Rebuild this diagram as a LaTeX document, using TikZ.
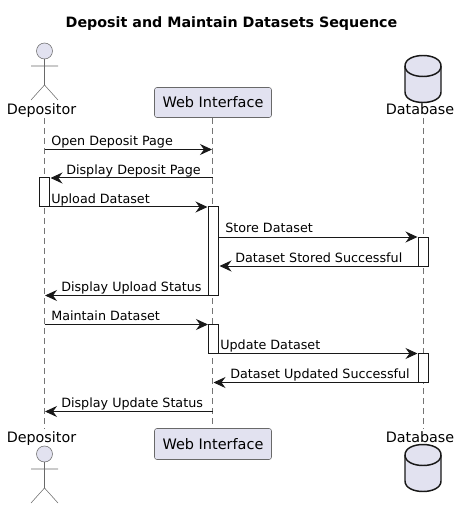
\documentclass[tikz,border=0pt]{standalone}
\usepackage{fontspec}
\setmainfont{DejaVu Sans}
\usepackage{xcolor}
\usetikzlibrary{arrows.meta, positioning, shapes.geometric}
\definecolor{partfill}{HTML}{E2E2F0}
\definecolor{inkline}{HTML}{181818}
\tikzset{
    msg/.style={draw=inkline, line width=0.75pt, -{Stealth[length=9pt, width=8.25pt, inset=3pt]}},
    msgtext/.style={anchor=base west, inner sep=0pt, font=\fontsize{9.55}{12}\selectfont, text=black},
    parttext/.style={anchor=base, inner sep=0pt, font=\fontsize{10.75}{12}\selectfont, text=black},
    lifeline/.style={draw=inkline!60, line width=0.4pt, dash pattern=on 4.5pt off 3pt},
    actbox/.style={draw=inkline, fill=white, line width=0.75pt, rectangle, inner sep=0pt, minimum width=7.5pt},
    partbox/.style={draw=inkline!65, fill=partfill, line width=0.4pt, rounded corners=1.8pt, inner sep=0pt,
        minimum width=87.75pt, minimum height=22.5pt, font=\fontsize{10.85}{12}\selectfont},
    dbline/.style={draw=inkline, line width=1.1pt},
    actorline/.style={draw=inkline!65, line width=0.4pt}
}
\begin{document}
\begin{tikzpicture}[x=0.75pt, y=-0.75pt]
    \useasboundingbox (0,0) rectangle (460,509);

    % Title
    \node [anchor=base, inner sep=0pt, font=\fontsize{10.7}{12}\selectfont\bfseries] (title) at (231.5,28) {Deposit and Maintain Datasets Sequence};

    % Lifelines
    \coordinate (depoTop) at (44.5,118);
    \coordinate (depoBot) at (44.5,429);
    \coordinate (webTop) at (212.5,118);
    \coordinate (webBot) at (212.5,429);
    \coordinate (dbTop) at (423,118);
    \coordinate (dbBot) at (423,429);
    \draw [lifeline] (depoTop) -- (depoBot);
    \draw [lifeline] (webTop) -- (webBot);
    \draw [lifeline] (dbTop) -- (dbBot);

    % Participants
    \node [partbox] (webA) at (213,102.5) {Web Interface};
    \node [partbox, minimum height=23.25pt] (webB) at (213,444) {Web Interface};
    \node [parttext] (depoA) at (41.5,115) {Depositor};
    \node [parttext] (depoB) at (41.5,442) {Depositor};
    \node [parttext] (dbA) at (420,115) {Database};
    \node [parttext] (dbB) at (420,442) {Database};

    % Actors
    \draw [actorline, fill=partfill] (44.5,51) circle [radius=8];
    \draw [actorline] (44.5,59) -- (44.5,85) (31,66) -- (58,66) (31,100) -- (44.5,85) -- (58,100);
    \draw [actorline, fill=partfill] (44.5,454) circle [radius=8];
    \draw [actorline] (44.5,462) -- (44.5,488) (31,469) -- (58,469) (31,503) -- (44.5,488) -- (58,503);

    % Databases
    \draw [dbline, fill=partfill] (405,66) .. controls (405,52) and (441,52) .. (441,66)
        -- (441,92) .. controls (441,106) and (405,106) .. (405,92) -- cycle;
    \draw [dbline] (405,66) .. controls (405,80) and (441,80) .. (441,66);
    \draw [dbline, fill=partfill] (405,455) .. controls (405,441) and (441,441) .. (441,455)
        -- (441,481) .. controls (441,495) and (405,495) .. (405,481) -- cycle;
    \draw [dbline] (405,455) .. controls (405,469) and (441,469) .. (441,455);

    % Activations
    \node [actbox, minimum height=21.75pt] (actDepo) at (44.5,192.5) {};
    \node [actbox, minimum height=66pt] (actWebA) at (213.5,251) {};
    \node [actbox, minimum height=21.75pt] (actWebB) at (213.5,339) {};
    \node [actbox, minimum height=21.75pt] (actDbA) at (423.5,251.5) {};
    \node [actbox, minimum height=21.75pt] (actDbB) at (423.5,368) {};

    % Messages
    \coordinate (openS) at (44.5,149.5);
    \coordinate (openE) at (212,149.5);
    \draw [msg] (openS) -- (openE);
    \node [msgtext] (openT) at (51,145.5) {Open Deposit Page};

    \coordinate (showS) at (212.5,178);
    \coordinate (showE) at (50.5,178);
    \draw [msg] (showS) -- (showE);
    \node [msgtext] (showT) at (66,174.5) {Display Deposit Page};

    \coordinate (uploadS) at (44.5,207);
    \coordinate (uploadE) at (207.5,207);
    \draw [msg] (uploadS) -- (uploadE);
    \node [msgtext] (uploadT) at (51,203.5) {Upload Dataset};

    \coordinate (storeS) at (218.5,237);
    \coordinate (storeE) at (417.5,237);
    \draw [msg] (storeS) -- (storeE);
    \node [msgtext] (storeT) at (225,233) {Store Dataset};

    \coordinate (storedS) at (418.5,266);
    \coordinate (storedE) at (219.5,266);
    \draw [msg] (storedS) -- (storedE);
    \node [msgtext] (storedT) at (235,262) {Dataset Stored Successful};

    \coordinate (statusS) at (208.5,295.5);
    \coordinate (statusE) at (45,295.5);
    \draw [msg] (statusS) -- (statusE);
    \node [msgtext] (statusT) at (61,291) {Display Upload Status};

    \coordinate (keepS) at (44.5,324.5);
    \coordinate (keepE) at (208,324.5);
    \draw [msg] (keepS) -- (keepE);
    \node [msgtext] (keepT) at (51,320) {Maintain Dataset};

    \coordinate (updateS) at (213.5,353.5);
    \coordinate (updateE) at (417.5,353.5);
    \draw [msg] (updateS) -- (updateE);
    \node [msgtext] (updateT) at (220,349) {Update Dataset};

    \coordinate (updatedS) at (428.5,382.5);
    \coordinate (updatedE) at (213.5,382.5);
    \draw [msg] (updatedS) -- (updatedE);
    \node [msgtext] (updatedT) at (230,378) {Dataset Updated Successful};

    \coordinate (endS) at (212.5,411.5);
    \coordinate (endE) at (45,411.5);
    \draw [msg] (endS) -- (endE);
    \node [msgtext] (endT) at (61,407) {Display Update Status};
\end{tikzpicture}
\end{document}
